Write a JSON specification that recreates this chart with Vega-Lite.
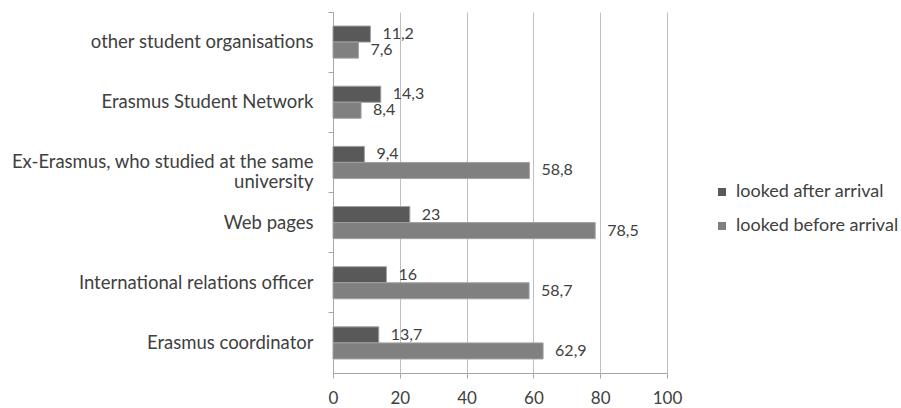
{
  "$schema": "https://vega.github.io/schema/vega-lite/v6.json",
  "autosize": {"type": "none"},
  "padding": {"left": 333, "top": 12, "right": 234, "bottom": 35},
  "width": 334,
  "height": 361,
  "config": {
    "locale": {"number": {"decimal": ",", "thousands": ".", "grouping": [3], "currency": ["", " €"]}},
    "view": {"stroke": null},
    "font": "Lato",
    "background": "white"
  },
  "data": {
    "values": [
      {"source": "other student organisations", "series": "looked after arrival", "value": 11.2},
      {"source": "other student organisations", "series": "looked before arrival", "value": 7.6},
      {"source": "Erasmus Student Network", "series": "looked after arrival", "value": 14.3},
      {"source": "Erasmus Student Network", "series": "looked before arrival", "value": 8.4},
      {"source": "Ex-Erasmus, who studied at the same university", "series": "looked after arrival", "value": 9.4},
      {"source": "Ex-Erasmus, who studied at the same university", "series": "looked before arrival", "value": 58.8},
      {"source": "Web pages", "series": "looked after arrival", "value": 23},
      {"source": "Web pages", "series": "looked before arrival", "value": 78.5},
      {"source": "International relations officer", "series": "looked after arrival", "value": 16},
      {"source": "International relations officer", "series": "looked before arrival", "value": 58.7},
      {"source": "Erasmus coordinator", "series": "looked after arrival", "value": 13.7},
      {"source": "Erasmus coordinator", "series": "looked before arrival", "value": 62.9}
    ]
  },
  "encoding": {
    "y": {
      "field": "source",
      "type": "nominal",
      "sort": ["other student organisations", "Erasmus Student Network", "Ex-Erasmus, who studied at the same university", "Web pages", "International relations officer", "Erasmus coordinator"],
      "scale": {"paddingInner": 0, "paddingOuter": 0},
      "axis": {
        "title": null,
        "bandPosition": 0,
        "labelOffset": 0,
        "tickSize": 5,
        "tickColor": "#a6a6a6",
        "domainColor": "#a6a6a6",
        "labelFontSize": 18.5,
        "labelColor": "#404040",
        "labelPadding": 15,
        "labelLimit": 330,
        "labelLineHeight": 20,
        "labelExpr": "datum.value == 'Ex-Erasmus, who studied at the same university' ? ['Ex-Erasmus, who studied at the same', 'university'] : datum.value"
      }
    },
    "yOffset": {
      "field": "series",
      "type": "nominal",
      "sort": ["looked after arrival", "looked before arrival"],
      "scale": {"paddingInner": 0, "paddingOuter": 0.875}
    },
    "x": {
      "field": "value",
      "type": "quantitative",
      "scale": {"domain": [0, 100], "nice": false},
      "axis": {
        "title": null,
        "values": [0, 20, 40, 60, 80, 100],
        "grid": true,
        "gridColor": "#bfbfbf",
        "tickSize": 5,
        "tickColor": "#a6a6a6",
        "domainColor": "#a6a6a6",
        "labelFontSize": 17,
        "labelColor": "#404040",
        "labelPadding": 12,
        "labelFlush": false
      }
    }
  },
  "layer": [
    {
      "mark": {"type": "bar", "stroke": "#a0a0a0", "strokeWidth": 1},
      "encoding": {
        "color": {
          "field": "series",
          "type": "nominal",
          "sort": ["looked after arrival", "looked before arrival"],
          "scale": {"range": ["#595959", "#808080"]},
          "legend": {
            "title": null,
            "orient": "none",
            "legendX": 380,
            "legendY": 171,
            "symbolType": "square",
            "symbolSize": 64,
            "symbolStrokeWidth": 0,
            "labelFontSize": 18,
            "labelLimit": 220,
            "labelColor": "#404040",
            "labelOffset": 5,
            "rowPadding": 16
          }
        }
      }
    },
    {
      "mark": {"type": "text", "align": "left", "baseline": "middle", "dx": 12, "fontSize": 16, "color": "#404040"},
      "encoding": {
        "text": {"field": "value", "type": "quantitative", "format": ".1~f"}
      }
    }
  ]
}
